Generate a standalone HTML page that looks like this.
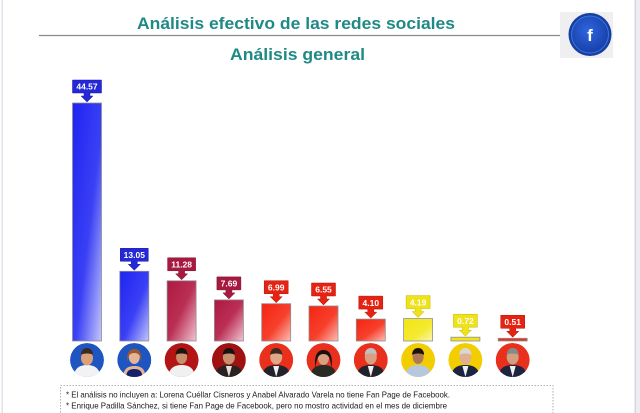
<!DOCTYPE html>
<html><head><meta charset="utf-8"><style>
html,body{margin:0;padding:0;background:#fff;}
svg{display:block;}
</style></head><body>
<svg width="640" height="413" viewBox="0 0 640 413" xmlns="http://www.w3.org/2000/svg">
<defs>
<linearGradient id="gB" x1="0" y1="0" x2="1" y2="1"><stop offset="0" stop-color="#1f24f2"/><stop offset="0.55" stop-color="#3a40f4"/><stop offset="1" stop-color="#c4c7fb"/></linearGradient>
<linearGradient id="gC" x1="0" y1="0" x2="1" y2="1"><stop offset="0" stop-color="#ad1840"/><stop offset="0.5" stop-color="#bb2f55"/><stop offset="1" stop-color="#f1c6d2"/></linearGradient>
<linearGradient id="gR" x1="0" y1="0" x2="1" y2="1"><stop offset="0" stop-color="#f52410"/><stop offset="0.55" stop-color="#f6402c"/><stop offset="1" stop-color="#fcc0b8"/></linearGradient>
<linearGradient id="gY" x1="0" y1="0" x2="1" y2="1"><stop offset="0" stop-color="#f2e612"/><stop offset="0.6" stop-color="#f4ea30"/><stop offset="1" stop-color="#fbf6b0"/></linearGradient>
<clipPath id="cc"><circle cx="0" cy="0" r="17"/></clipPath>
<radialGradient id="fb" cx="0.45" cy="0.4" r="0.6"><stop offset="0" stop-color="#2f66e0"/><stop offset="1" stop-color="#1740a8"/></radialGradient>
</defs>

<rect x="0" y="0" width="640" height="413" fill="#fff"/>
<rect x="1.5" y="0" width="1.5" height="413" fill="#e2e2e8"/>
<rect x="634" y="0" width="6" height="413" fill="#ececf2"/>
<rect x="635" y="0" width="1" height="413" fill="#d6d6e0"/>

<text x="137" y="29" font-family="Liberation Sans, sans-serif" font-weight="bold" font-size="17" fill="#1f8985" textLength="318" lengthAdjust="spacingAndGlyphs">Análisis efectivo de las redes sociales</text>
<line x1="39" y1="35.5" x2="560" y2="35.5" stroke="#8a8a8a" stroke-width="1.3"/>
<text x="230" y="60" font-family="Liberation Sans, sans-serif" font-weight="bold" font-size="17" fill="#1f8985" textLength="135" lengthAdjust="spacingAndGlyphs">Análisis general</text>

<rect x="560" y="12" width="53" height="46" fill="#efeff1"/>
<circle cx="590" cy="34.5" r="21.5" fill="#173f9e"/>
<circle cx="590" cy="34.5" r="18.5" fill="url(#fb)" stroke="#3b73e8" stroke-width="1"/>
<text x="590" y="41" text-anchor="middle" font-family="Liberation Sans, sans-serif" font-weight="bold" font-size="17" fill="#fff">f</text>

<g stroke="#8f8f95" stroke-width="0.8">
<rect x="72.5" y="103" width="29" height="238" fill="url(#gB)"/>
<rect x="119.8" y="271.3" width="29" height="69.7" fill="url(#gB)"/>
<rect x="167.1" y="280.8" width="29" height="60.2" fill="url(#gC)"/>
<rect x="214.4" y="299.9" width="29" height="41.1" fill="url(#gC)"/>
<rect x="261.7" y="303.7" width="29" height="37.3" fill="url(#gR)"/>
<rect x="309" y="306" width="29" height="35" fill="url(#gR)"/>
<rect x="356.3" y="319.1" width="29" height="21.9" fill="url(#gR)"/>
<rect x="403.6" y="318.6" width="29" height="22.4" fill="url(#gY)"/>
<rect x="450.9" y="337.2" width="29" height="3.8" fill="#efe31c"/>
<rect x="498.2" y="338.3" width="29" height="2.7" fill="#e8321e"/>
</g>

<g font-family="Liberation Sans, sans-serif" font-weight="bold" font-size="8.5" fill="#fff" text-anchor="middle">
<g transform="translate(87,103)"><path d="M-14.5,-23h29v13h-11.5v3h3l-6,6l-6,-6h3v-3h-11.5z" fill="#2428d6" stroke="#1a1aa0" stroke-width="0.5"/><text x="0" y="-13.3">44.57</text></g>
<g transform="translate(134.3,271.3)"><path d="M-14,-23h28v13h-11v3h3l-6,6l-6,-6h3v-3h-11z" fill="#2428d6" stroke="#1a1aa0" stroke-width="0.5"/><text x="0" y="-13.3">13.05</text></g>
<g transform="translate(181.6,280.8)"><path d="M-14,-23h28v13h-11v3h3l-6,6l-6,-6h3v-3h-11z" fill="#a8193f" stroke="#7a1030" stroke-width="0.5"/><text x="0" y="-13.3">11.28</text></g>
<g transform="translate(228.9,299.9)"><path d="M-12,-23h24v13h-9v3h3l-6,6l-6,-6h3v-3h-9z" fill="#a8193f" stroke="#7a1030" stroke-width="0.5"/><text x="0" y="-13.3">7.69</text></g>
<g transform="translate(276.2,303.7)"><path d="M-12,-23h24v13h-9v3h3l-6,6l-6,-6h3v-3h-9z" fill="#e62212" stroke="#b01408" stroke-width="0.5"/><text x="0" y="-13.3">6.99</text></g>
<g transform="translate(323.5,306)"><path d="M-12,-23h24v13h-9v3h3l-6,6l-6,-6h3v-3h-9z" fill="#e62212" stroke="#b01408" stroke-width="0.5"/><text x="0" y="-13.3">6.55</text></g>
<g transform="translate(370.8,319.1)"><path d="M-12,-23h24v13h-9v3h3l-6,6l-6,-6h3v-3h-9z" fill="#e62212" stroke="#b01408" stroke-width="0.5"/><text x="0" y="-13.3">4.10</text></g>
<g transform="translate(418.1,318.6)"><path d="M-12,-23h24v13h-9v3h3l-6,6l-6,-6h3v-3h-9z" fill="#eee21a" stroke="#c8b800" stroke-width="0.5"/><text x="0" y="-13.3">4.19</text></g>
<g transform="translate(465.4,337.2)"><path d="M-12,-23h24v13h-9v3h3l-6,6l-6,-6h3v-3h-9z" fill="#eee21a" stroke="#c8b800" stroke-width="0.5"/><text x="0" y="-13.3">0.72</text></g>
<g transform="translate(512.7,338.3)"><path d="M-12,-23h24v13h-9v3h3l-6,6l-6,-6h3v-3h-9z" fill="#e62212" stroke="#b01408" stroke-width="0.5"/><text x="0" y="-13.3">0.51</text></g>
</g>

<g transform="translate(87,360)" clip-path="url(#cc)"><circle r="17" fill="#1e55c0"/><path d="M-13,17c0-9 6-12 13-12s13,3 13,12z" fill="#f2f2f4"/><ellipse cx="0" cy="-2" rx="6" ry="7.5" fill="#d9a07a"/><path d="M-6,-5c0-5 3-7 6-7s6,2 6,7c-2-2-10-2-12,0z" fill="#3a2a20"/></g>
<g transform="translate(134.3,360)" clip-path="url(#cc)"><circle r="17" fill="#1e55c0"/><path d="M-11,17c0-8 4-11 11-11s11,3 11,11z" fill="#e5b596"/><path d="M-8,17c0-6 3-8 8-8s8,2 8,8z" fill="#16206a"/><ellipse cx="0" cy="-3" rx="5.5" ry="7" fill="#e5b596"/><path d="M-7,2c-1-10 3-13 7-13s8,3 7,13c-1-6-2-9-7-9s-6,3-7,9z" fill="#9a5a2a"/></g>
<g transform="translate(181.6,360)" clip-path="url(#cc)"><circle r="17" fill="#b31414"/><path d="M-13,17c0-9 6-12 13-12s13,3 13,12z" fill="#f0f0f0"/><ellipse cx="0" cy="-3" rx="5.5" ry="7" fill="#c98e6c"/><path d="M-6,-5c0-5 3-7 6-7s6,2 6,7c-2-2-10-2-12,0z" fill="#1e1410"/></g>
<g transform="translate(228.9,360)" clip-path="url(#cc)"><circle r="17" fill="#a01212"/><path d="M-14,17c0-9 6-12 14-12s14,3 14,12z" fill="#2a2220"/><path d="M-3,6h6l-3,11z" fill="#e8e0d8"/><ellipse cx="0" cy="-3" rx="6" ry="7.5" fill="#c99070"/><path d="M-6,-5c0-5 3-7 6-7s6,2 6,7c-2-2-10-2-12,0z" fill="#1a1210"/></g>
<g transform="translate(276.2,360)" clip-path="url(#cc)"><circle r="17" fill="#e8301c"/><path d="M-14,17c0-9 6-12 14-12s14,3 14,12z" fill="#22222c"/><path d="M-3,6h6l-3,11z" fill="#f0f0f0"/><ellipse cx="0" cy="-3" rx="6" ry="7.5" fill="#e0a888"/><path d="M-6,-5c0-5 3-7 6-7s6,2 6,7c-2-2-10-2-12,0z" fill="#3a2a20"/></g>
<g transform="translate(323.5,360)" clip-path="url(#cc)"><circle r="17" fill="#e8301c"/><path d="M-13,17c0-9 6-12 13-12s13,3 13,12z" fill="#2a2a24"/><ellipse cx="0" cy="-2" rx="5.5" ry="7" fill="#d8a080"/><path d="M-8,8c-2-14 3-18 8-18s10,4 8,18c-1-8-2-14-8-14s-7,6-8,14z" fill="#1a1210"/></g>
<g transform="translate(370.8,360)" clip-path="url(#cc)"><circle r="17" fill="#e8301c"/><path d="M-14,17c0-9 6-12 14-12s14,3 14,12z" fill="#22222a"/><path d="M-3,6h6l-3,11z" fill="#f0f0f0"/><ellipse cx="0" cy="-3" rx="6" ry="7.5" fill="#d8a080"/><path d="M-6,-5c0-5 3-7 6-7s6,2 6,7c-2-2-10-2-12,0z" fill="#c0c0c0"/></g>
<g transform="translate(418.1,360)" clip-path="url(#cc)"><circle r="17" fill="#f2ce00"/><path d="M-13,17c0-9 6-12 13-12s13,3 13,12z" fill="#b8c8dc"/><ellipse cx="0" cy="-3" rx="5.5" ry="7" fill="#b07a58"/><path d="M-6,-5c0-5 3-7 6-7s6,2 6,7c-2-2-10-2-12,0z" fill="#1a1210"/></g>
<g transform="translate(465.4,360)" clip-path="url(#cc)"><circle r="17" fill="#f2ce00"/><path d="M-14,17c0-9 6-12 14-12s14,3 14,12z" fill="#1c2440"/><path d="M-3,6h6l-3,11z" fill="#f0f0f0"/><ellipse cx="0" cy="-3" rx="6" ry="7.5" fill="#e0b090"/><path d="M-6,-5c0-5 3-7 6-7s6,2 6,7c-2-2-10-2-12,0z" fill="#d8d8d8"/></g>
<g transform="translate(512.7,360)" clip-path="url(#cc)"><circle r="17" fill="#e8301c"/><path d="M-14,17c0-9 6-12 14-12s14,3 14,12z" fill="#1c2440"/><path d="M-3,6h6l-3,11z" fill="#f0f0f0"/><ellipse cx="0" cy="-3" rx="6" ry="7.5" fill="#d0a080"/><path d="M-6,-5c0-5 3-7 6-7s6,2 6,7c-2-2-10-2-12,0z" fill="#888"/></g>

<rect x="60.5" y="385.5" width="492.5" height="40" fill="none" stroke="#9a9a9a" stroke-width="0.8" stroke-dasharray="1.5,1.5"/>
<text x="66" y="397.5" font-family="Liberation Sans, sans-serif" font-size="8.3" fill="#1a1a1a" textLength="384" lengthAdjust="spacingAndGlyphs">* El análisis no incluyen a: Lorena Cuéllar Cisneros y Anabel Alvarado Varela no tiene Fan Page de Facebook.</text>
<text x="66" y="408.5" font-family="Liberation Sans, sans-serif" font-size="8.3" fill="#1a1a1a" textLength="381" lengthAdjust="spacingAndGlyphs">* Enrique Padilla Sánchez, si tiene Fan Page de Facebook, pero no mostro actividad en el mes de diciembre</text>
</svg>
</body></html>
